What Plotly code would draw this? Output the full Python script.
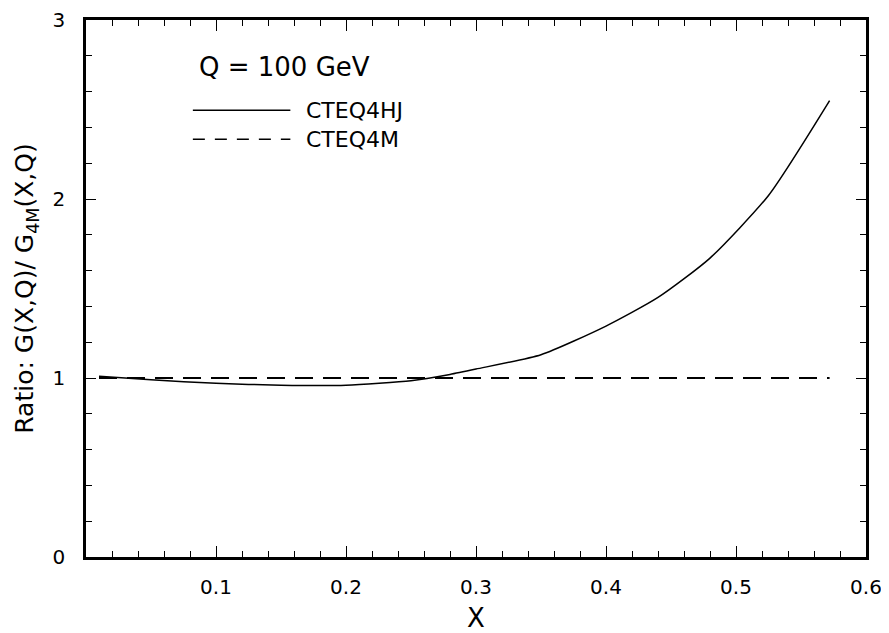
import plotly.graph_objects as go

# Data
x_hj = [0.01, 0.05, 0.10, 0.15, 0.20, 0.25, 0.28, 0.30, 0.35, 0.40, 0.44, 0.48, 0.525, 0.572]
y_hj = [1.01, 0.99, 0.97, 0.96, 0.96, 0.985, 1.02, 1.05, 1.13, 1.29, 1.45, 1.67, 2.02, 2.55]
x_m = [0.01, 0.572]
y_m = [1.0, 1.0]
x_ticks = [0.1, 0.2, 0.3, 0.4, 0.5, 0.6]
y_ticks = [0, 1, 2, 3]

FONT = "DejaVu Sans, Liberation Sans, Arial, sans-serif"

fig = go.Figure()
fig.add_trace(go.Scatter(x=x_hj, y=y_hj, mode="lines", name="CTEQ4HJ",
                         line=dict(color="black", width=1.5, shape="spline", smoothing=0.6)))
fig.add_trace(go.Scatter(x=x_m, y=y_m, mode="lines", name="CTEQ4M",
                         line=dict(color="black", width=1.8, dash="18px,10px")))

axis_common = dict(showline=True, linecolor="black", linewidth=2.5, mirror="allticks",
                   ticks="inside", tickcolor="black", showgrid=False, zeroline=False,
                   automargin=False, ticklabeloverflow="allow",
                   tickfont=dict(family=FONT, size=20, color="black"))

fig.update_xaxes(range=[0, 0.6], tickvals=x_ticks, ticklen=11, tickwidth=1.3,
                 ticklabelstandoff=10,
                 minor=dict(dtick=0.02, tick0=0, ticks="inside", ticklen=6, tickcolor="black"),
                 title=dict(text="X", font=dict(family=FONT, size=26, color="black"), standoff=12),
                 **axis_common)
fig.update_yaxes(range=[0, 3], tickvals=y_ticks, ticklen=10, tickwidth=1.3,
                 ticklabelstandoff=14,
                 minor=dict(dtick=0.2, tick0=0, ticks="inside", ticklen=6, tickcolor="black"),
                 title=dict(text="Ratio: G(X,Q)/ G<sub>4M</sub>(X,Q)",
                            font=dict(family=FONT, size=25, color="black"), standoff=12),
                 **axis_common)

# Legend drawn manually to match the long sample lines of the reference
fig.add_annotation(text="Q = 100 GeV", xref="paper", yref="paper", x=0.142, y=0.912,
                   xanchor="left", yanchor="middle", showarrow=False,
                   font=dict(family=FONT, size=26, color="black"))
fig.add_shape(type="line", xref="paper", yref="paper", x0=0.137, x1=0.262, y0=0.832, y1=0.832,
              line=dict(color="black", width=1.5))
fig.add_shape(type="line", xref="paper", yref="paper", x0=0.137, x1=0.262, y0=0.778, y1=0.778,
              line=dict(color="black", width=1.6, dash="12px,10px"))
fig.add_annotation(text="CTEQ4HJ", xref="paper", yref="paper", x=0.279, y=0.832,
                   xanchor="left", yanchor="middle", showarrow=False,
                   font=dict(family=FONT, size=22, color="black"))
fig.add_annotation(text="CTEQ4M", xref="paper", yref="paper", x=0.279, y=0.778,
                   xanchor="left", yanchor="middle", showarrow=False,
                   font=dict(family=FONT, size=22, color="black"))

# The page body adds an 8px offset, so the figure is 8px smaller and margins compensate
fig.update_layout(width=881, height=625, showlegend=False,
                  margin=dict(l=78, r=23, t=12, b=76, autoexpand=False),
                  plot_bgcolor="white", paper_bgcolor="white")

fig.write_html("out.html")
